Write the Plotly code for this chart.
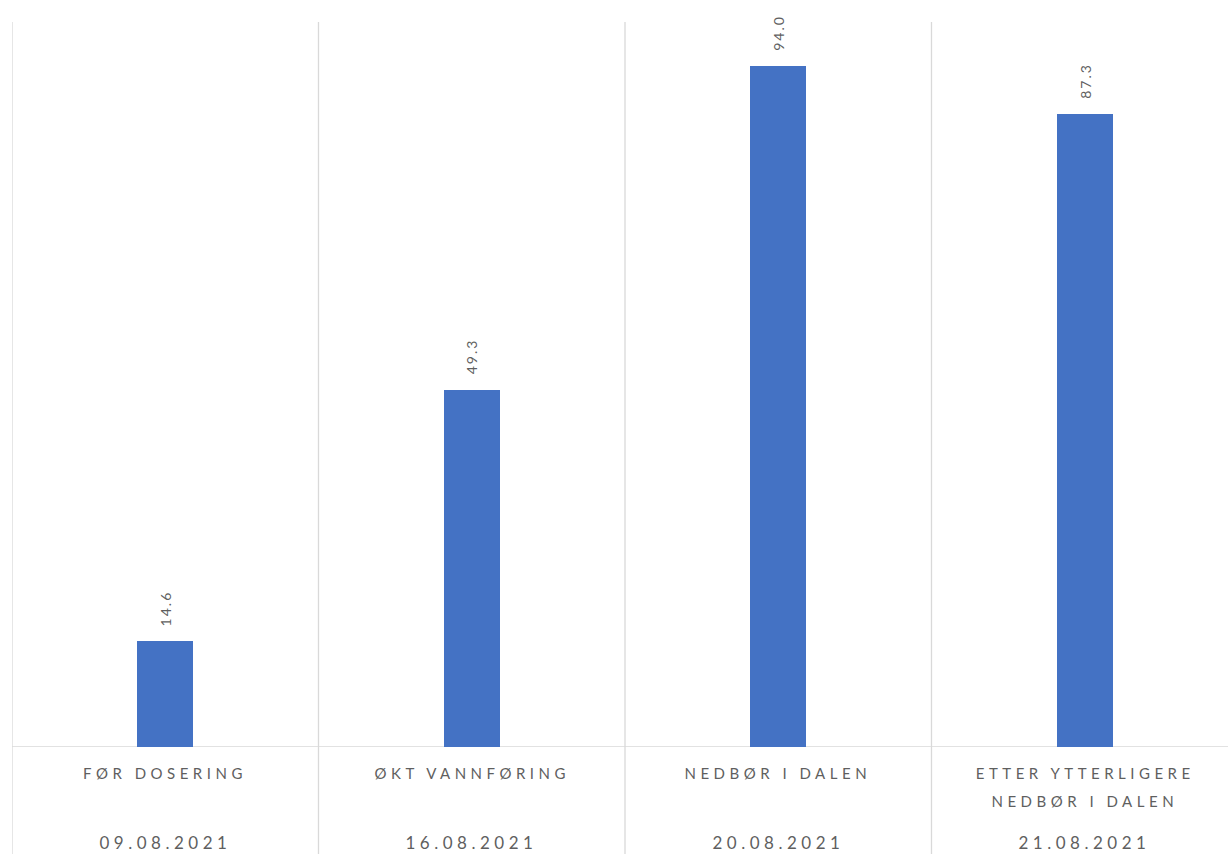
import plotly.graph_objects as go

# Sampling events: description lines, date and measured value
category_lines = [["FØR DOSERING"], ["ØKT VANNFØRING"], ["NEDBØR I DALEN"],
                  ["ETTER YTTERLIGERE", "NEDBØR I DALEN"]]
dates = ["09.08.2021", "16.08.2021", "20.08.2021", "21.08.2021"]
values = [14.6, 49.3, 94.0, 87.3]

BAR_COLOR = "#4472C4"
TEXT_COLOR = "#5f5f5f"
GRID_COLOR = "#D9D9D9"
FONT = "Lato, Carlito, 'Liberation Sans', sans-serif"

x_idx = list(range(len(values)))

fig = go.Figure(
    go.Bar(
        x=x_idx,
        y=values,
        width=0.183,
        marker=dict(color=BAR_COLOR, line=dict(width=0)),
        hoverinfo="skip",
    )
)

annotations = []
# Value labels, rotated, a little above each bar
for i, v in zip(x_idx, values):
    annotations.append(dict(x=i, xref="x", y=v, yref="y", yanchor="bottom",
                            yshift=17, text=f"{v:.1f}", textangle=-90,
                            showarrow=False,
                            font=dict(family=FONT, size=14, color=TEXT_COLOR)))

# Separators between categories, running down through the label area
shapes = []
for i in x_idx:
    shapes.append(dict(type="line", xref="x", yref="paper",
                       x0=i - 0.5, x1=i - 0.5, y0=-0.2, y1=1,
                       line=dict(color=GRID_COLOR, width=1.3), layer="below"))

# Category names and dates under the axis
for i, (lines, d) in enumerate(zip(category_lines, dates)):
    for k, line in enumerate(lines):
        annotations.append(dict(x=i, xref="x", y=0, yref="paper",
                                yanchor="middle", yshift=-26 - 28 * k,
                                text=line, showarrow=False,
                                font=dict(family=FONT, size=15,
                                          color=TEXT_COLOR)))
    annotations.append(dict(x=i, xref="x", y=0, yref="paper", yanchor="middle",
                            yshift=-95, text=d, showarrow=False,
                            font=dict(family=FONT, size=17, color=TEXT_COLOR)))

fig.update_layout(
    width=1228,
    height=854,
    margin=dict(l=12, r=0, t=22, b=107),
    paper_bgcolor="white",
    plot_bgcolor="white",
    showlegend=False,
    bargap=0,
    xaxis=dict(range=[-0.5, 3.5 - 10 / 306.5], showticklabels=False,
               showgrid=False, zeroline=False, showline=False, ticks=""),
    yaxis=dict(range=[0, 100], visible=False, showgrid=False, zeroline=False),
    shapes=shapes
    + [dict(type="line", xref="paper", yref="y", x0=0, x1=1, y0=0, y1=0,
            line=dict(color=GRID_COLOR, width=1.3), layer="below")],
    annotations=annotations,
)

# Wide letter spacing on the axis captions, slight spacing on value labels
spacing_js = """
document.querySelectorAll('.annotation-text').forEach(function (t) {
  var s = t.textContent;
  t.style.letterSpacing = /^[0-9]+\\.[0-9]$/.test(s) ? '2px' : '4.5px';
});
"""

fig.write_html("out.html", post_script=spacing_js)
